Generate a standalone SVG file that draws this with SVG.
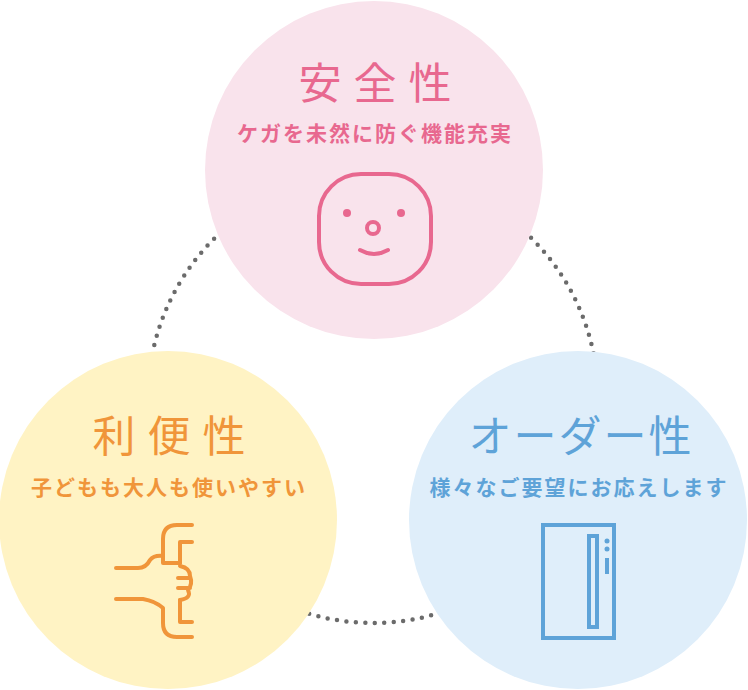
<svg xmlns="http://www.w3.org/2000/svg" width="748" height="690" viewBox="0 0 748 690">
<style>
.t{font-family:"Noto Sans CJK JP",sans-serif;text-anchor:middle}
.h{font-size:43px;letter-spacing:12px}
.s{font-size:21px;font-weight:bold;letter-spacing:2px}
.ic{fill:none;stroke-width:4;stroke-linecap:round;stroke-linejoin:round}
</style>
<rect width="748" height="690" fill="#fff"/>
<g id="connectors"><circle cx="373" cy="398" r="225" fill="none" stroke="#6b6b6b" stroke-width="4.5" stroke-linecap="round" stroke-dasharray="0 9.5"/></g>
<g id="safety">
<circle cx="374" cy="170" r="169" fill="#f9e3ec"/>
<text class="t h" x="381" y="99" fill="#e8688f">安全性</text>
<text class="t s" x="375" y="141" fill="#e8688f">ケガを未然に防ぐ機能充実</text>
<g class="ic" stroke="#e8688f"><rect x="319" y="174" width="112" height="110" rx="42"/><circle cx="373" cy="228" r="6"/><path d="M360 250 Q374 258 388 250"/></g>
<circle cx="347" cy="213" r="4" fill="#e8688f"/><circle cx="401" cy="213" r="4" fill="#e8688f"/>
</g>
<g id="convenience">
<circle cx="168" cy="520" r="169" fill="#fff3c4"/>
<text class="t h" x="175" y="452" fill="#f0953a">利便性</text>
<text class="t s" x="169" y="495" fill="#f0953a">子どもも大人も使いやすい</text>
<g class="ic" stroke="#f0953a">
<path d="M192 525 H177 Q163 525 163 539 V563 H180"/>
<path d="M192 542 H180 V563"/>
<path d="M116 568 H138 Q146 568 150 560 Q154 555 163 556"/>
<path d="M180 566 Q190 568 190 576 Q193 584 188 590 Q192 598 180 600 M178 578 H190 M178 588 H190"/>
<path d="M116 599 H143 Q155 601 163 608 V623 Q163 637 177 637 H192"/>
<path d="M180 600 V622 H192"/>
</g>
</g>
<g id="order">
<circle cx="578" cy="520" r="169" fill="#dfeefa"/>
<text class="t" x="581" y="452" fill="#5ea3d8" font-size="43" letter-spacing="2">オーダー性</text>
<text class="t s" x="579" y="495" fill="#5ea3d8" letter-spacing="0.5">様々なご要望にお応えします</text>
<g fill="none" stroke="#5ea3d8" stroke-width="4"><rect x="543" y="525" width="71" height="113"/><rect x="589" y="536" width="8" height="91"/><path d="M607 558 V574"/></g>
<circle cx="607" cy="541" r="2.5" fill="#5ea3d8"/><circle cx="607" cy="549" r="2.5" fill="#5ea3d8"/>
</g>
</svg>
